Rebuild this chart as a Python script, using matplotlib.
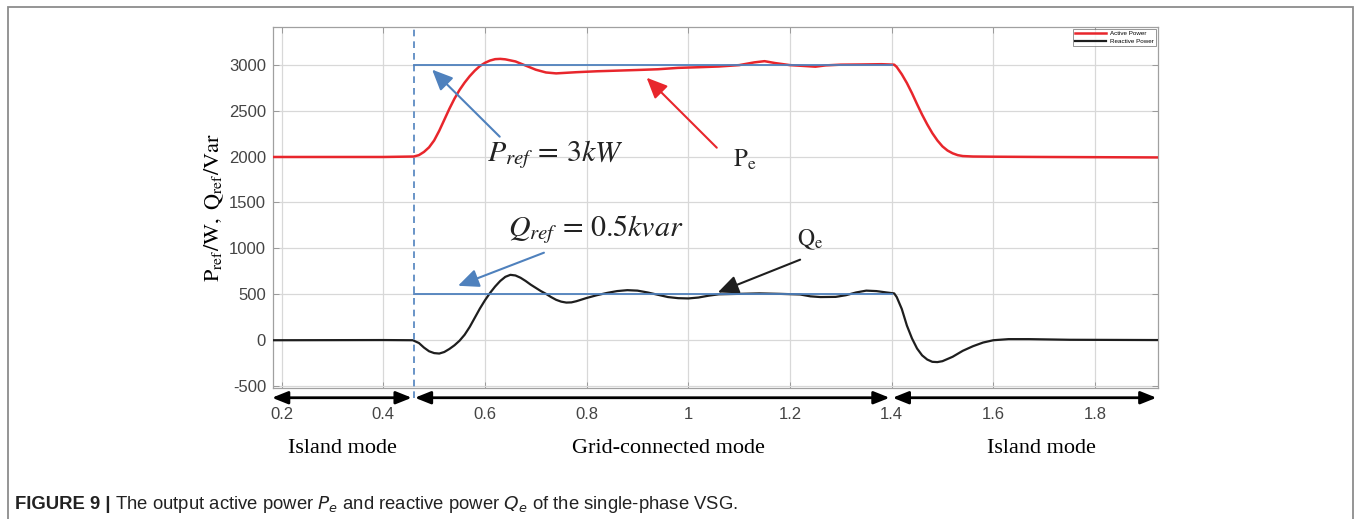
import matplotlib
matplotlib.use("Agg")
import matplotlib.pyplot as plt
from matplotlib.patches import Rectangle

plt.rcParams['font.family'] = ['Liberation Sans', 'DejaVu Sans']
plt.rcParams['axes.unicode_minus'] = False

# active power P_e (W) read at time t (s)
t_p = [0.183, 0.30, 0.40, 0.46, 0.47, 0.48, 0.49, 0.50, 0.51, 0.52, 0.53, 0.54,
       0.55, 0.56, 0.57, 0.58, 0.59, 0.60, 0.61, 0.62, 0.63, 0.64, 0.66, 0.68,
       0.70, 0.72, 0.74, 0.78, 0.82, 0.86, 0.90, 0.94, 0.98, 1.02, 1.06, 1.10,
       1.13, 1.15, 1.17, 1.20, 1.23, 1.25, 1.27, 1.30, 1.34, 1.38, 1.405, 1.41,
       1.42, 1.43, 1.44, 1.45, 1.46, 1.47, 1.48, 1.49, 1.50, 1.51, 1.52, 1.53,
       1.54, 1.56, 1.60, 1.70, 1.924]
p_e = [1995, 1995, 1995, 2000, 2015, 2050, 2100, 2175, 2280, 2400, 2520, 2630,
       2725, 2805, 2875, 2935, 2985, 3020, 3045, 3060, 3063, 3058, 3035, 2990,
       2945, 2915, 2905, 2918, 2928, 2935, 2942, 2950, 2965, 2972, 2980, 2995,
       3025, 3038, 3018, 2995, 2985, 2978, 2992, 3000, 3002, 3005, 3000, 2975,
       2895, 2800, 2690, 2570, 2455, 2350, 2255, 2175, 2110, 2065, 2035, 2015,
       2005, 2000, 1998, 1995, 1990]

# reactive power Q_e (Var)
t_q = [0.183, 0.40, 0.458, 0.47, 0.48, 0.49, 0.50, 0.51, 0.52, 0.53, 0.54, 0.55,
       0.56, 0.57, 0.58, 0.59, 0.60, 0.61, 0.62, 0.63, 0.64, 0.65, 0.66, 0.67,
       0.68, 0.69, 0.70, 0.71, 0.72, 0.73, 0.74, 0.75, 0.76, 0.77, 0.78, 0.80,
       0.82, 0.84, 0.86, 0.88, 0.90, 0.92, 0.94, 0.96, 0.98, 1.00, 1.02, 1.04,
       1.06, 1.10, 1.14, 1.18, 1.22, 1.24, 1.26, 1.29, 1.31, 1.33, 1.35, 1.37,
       1.39, 1.405, 1.41, 1.42, 1.43, 1.44, 1.45, 1.46, 1.47, 1.48, 1.49, 1.50,
       1.52, 1.54, 1.56, 1.58, 1.60, 1.63, 1.67, 1.75, 1.924]
q_e = [0, 2, 0, -30, -80, -120, -140, -145, -128, -95, -55, -5,
       60, 145, 245, 345, 435, 515, 585, 645, 690, 712, 705, 680,
       645, 605, 570, 535, 505, 470, 440, 420, 410, 412, 425, 460,
       490, 515, 535, 545, 540, 520, 495, 470, 458, 455, 465, 485,
       500, 505, 510, 505, 498, 478, 470, 472, 490, 520, 540, 535,
       520, 510, 470, 340, 160, 20, -90, -165, -210, -235, -238, -228,
       -180, -115, -65, -25, 0, 12, 12, 5, 2]

# reference values during grid-connected operation
t_ref = [0.46, 1.40]
p_ref = [3000, 3000]
q_ref = [500, 500]
t_switch = 0.46

# operating-mode spans drawn under the time axis
mode_spans = [(0.181, 0.456), (0.462, 1.396), (1.402, 1.921)]
mode_names = ['Island mode', 'Grid-connected mode', 'Island mode']
mode_centres = [0.319, 0.96, 1.694]

xticks = [0.2, 0.4, 0.6, 0.8, 1.0, 1.2, 1.4, 1.6, 1.8]
xticklabels = ['0.2', '0.4', '0.6', '0.8', '1', '1.2', '1.4', '1.6', '1.8']
yticks = [-500, 0, 500, 1000, 1500, 2000, 2500, 3000]

red = '#e8262c'
blk = '#1e1e1e'
blue = '#4f81bd'

fig = plt.figure(figsize=(13.56, 5.19), dpi=100)
W, H = 1356, 519
ax = fig.add_axes([273 / W, 1 - 388 / H, (1158 - 273) / W, (388 - 27) / H])

ax.plot(t_p, p_e, color=red, lw=1.8, label='Active Power', zorder=3)
ax.plot(t_q, q_e, color=blk, lw=1.6, label='Reactive Power', zorder=3)
ax.plot(t_ref, p_ref, color=blue, lw=1.3, zorder=4)
ax.plot(t_ref, q_ref, color=blue, lw=1.3, zorder=4)
ax.plot([t_switch, t_switch], [-630, 3410], color=blue, lw=1.2,
        ls=(0, (4, 3)), clip_on=False, zorder=4)

ax.set_xlim(0.183, 1.924)
ax.set_ylim(-520, 3410)
ax.set_xticks(xticks)
ax.set_xticklabels(xticklabels)
ax.set_yticks(yticks)
ax.grid(True, color='#d8d8d8', lw=0.9)
ax.tick_params(direction='in', length=4, width=0.7, colors='#9a9a9a',
               labelcolor='#444444', labelsize=12, top=True, right=True)
ax.tick_params(axis='x', pad=14)
ax.tick_params(axis='y', pad=5)
for s in ax.spines.values():
    s.set_color('#a0a0a0')
    s.set_linewidth(0.9)

ax.set_ylabel(r'$\mathrm{P_{ref}/W,\ Q_{ref}/Var}$', fontsize=16,
              math_fontfamily='stix', labelpad=2)

leg = ax.legend(loc='upper right', fontsize=4.5, frameon=True, fancybox=False,
                edgecolor='#666666', borderaxespad=0.25, handlelength=5,
                handletextpad=0.6, borderpad=0.4, labelspacing=0.3)
leg.get_frame().set_linewidth(0.6)

# annotation arrows
ax.annotate('', xy=(0.496, 2946), xytext=(0.629, 2216),
            arrowprops=dict(arrowstyle='-|>,head_length=0.9,head_width=0.4',
                            color=blue, lw=1.5, mutation_scale=14,
                            shrinkA=0, shrinkB=0))
ax.text(0.738, 2020, r'$P_{ref}\,=\,3kW$', fontsize=21.5, math_fontfamily='stix',
        ha='center', va='center', color='#222222')

ax.annotate('', xy=(0.918, 2858), xytext=(1.056, 2096),
            arrowprops=dict(arrowstyle='-|>,head_length=0.9,head_width=0.4',
                            color=red, lw=1.5, mutation_scale=14,
                            shrinkA=0, shrinkB=0))
ax.text(1.111, 1965, r'$\mathrm{P_e}$', fontsize=18, math_fontfamily='stix',
        ha='center', va='center', color='#222222')

ax.annotate('', xy=(0.547, 593), xytext=(0.716, 953),
            arrowprops=dict(arrowstyle='-|>,head_length=0.9,head_width=0.4',
                            color=blue, lw=1.5, mutation_scale=14,
                            shrinkA=0, shrinkB=0))
ax.text(0.818, 1200, r'$Q_{ref}\,=\,0.5kvar$', fontsize=21.5,
        math_fontfamily='stix', ha='center', va='center', color='#222222')

ax.annotate('', xy=(1.058, 520), xytext=(1.22, 877),
            arrowprops=dict(arrowstyle='-|>,head_length=0.9,head_width=0.4',
                            color=blk, lw=1.5, mutation_scale=14,
                            shrinkA=0, shrinkB=0))
ax.text(1.239, 1090, r'$\mathrm{Q_e}$', fontsize=17, math_fontfamily='stix',
        ha='center', va='center', color='#222222')

# mode arrows and labels below the axis
for (a, b), name, xc in zip(mode_spans, mode_names, mode_centres):
    ax.annotate('', xy=(b, -626), xytext=(a, -626), annotation_clip=False,
                arrowprops=dict(arrowstyle='<|-|>,head_length=0.95,head_width=0.38',
                                color='black', lw=2.0, mutation_scale=10,
                                shrinkA=0, shrinkB=0))
    ax.text(xc, -1180, name, fontsize=16, family='Liberation Serif',
            ha='center', va='center', clip_on=False)

# caption: bold label, then the sentence on the same baseline
cap_y = 1 - 509 / H
cap1 = fig.text(15 / W, cap_y, 'FIGURE 9 |', fontsize=13.3,
                weight='bold', va='baseline', color='#222222')
fig.canvas.draw()
bb = cap1.get_window_extent()
fig.text(bb.x1 / W, cap_y,
         r' The output active power $P_e$ and reactive power $Q_e$ of the single-phase VSG.',
         fontsize=13.3, va='baseline', math_fontfamily='dejavusans',
         color='#222222')

# outer frame
fig.add_artist(Rectangle((8 / W, -0.05), (1353 - 8) / W, 1.05 - 7 / H,
                         transform=fig.transFigure, fill=False,
                         edgecolor='#8c8c8c', lw=1.3))

fig.savefig('out.png', dpi=100)
